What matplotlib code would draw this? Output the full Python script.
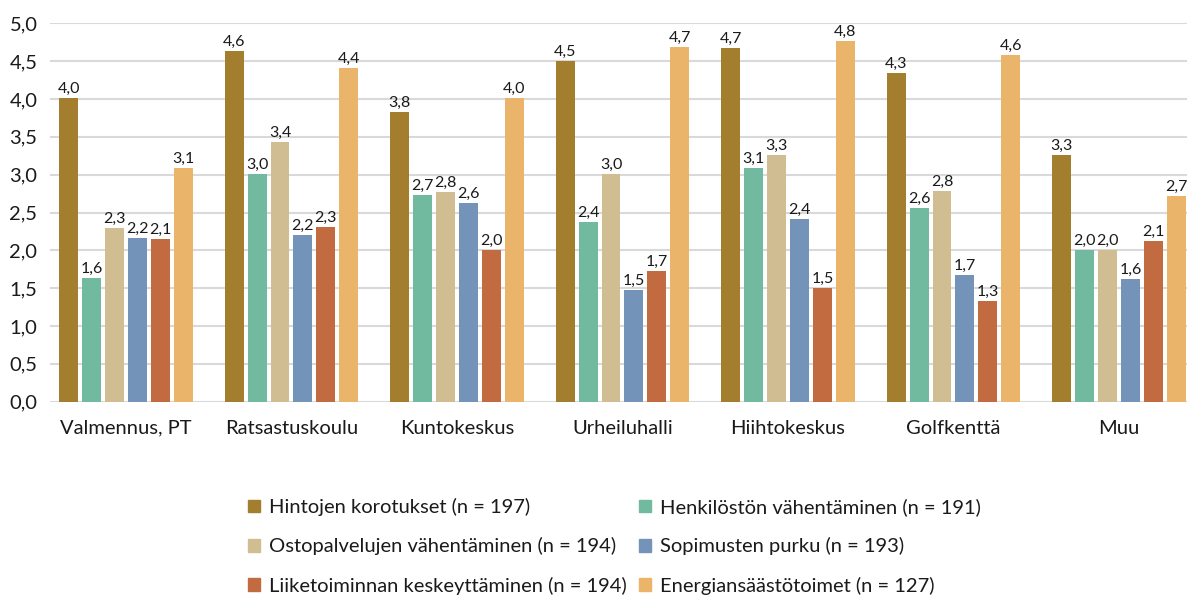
import matplotlib

matplotlib.use("Agg")

import matplotlib.pyplot as plt
import numpy as np
from matplotlib.patches import Patch

plt.rcParams["font.family"] = ["Lato", "DejaVu Sans"]

categories = ["Valmennus, PT", "Ratsastuskoulu", "Kuntokeskus", "Urheiluhalli",
              "Hiihtokeskus", "Golfkenttä", "Muu"]

series_names = [
    "Hintojen korotukset (n = 197)",
    "Henkilöstön vähentäminen (n = 191)",
    "Ostopalvelujen vähentäminen (n = 194)",
    "Sopimusten purku (n = 193)",
    "Liiketoiminnan keskeyttäminen (n = 194)",
    "Energiansäästötoimet (n = 127)",
]

hintojen = [4.01, 4.63, 3.83, 4.50, 4.67, 4.34, 3.26]
henkilosto = [1.64, 3.01, 2.73, 2.38, 3.09, 2.56, 2.00]
ostopalvelut = [2.30, 3.43, 2.77, 3.01, 3.26, 2.78, 2.00]
sopimukset = [2.16, 2.20, 2.62, 1.48, 2.41, 1.67, 1.62]
keskeytys = [2.15, 2.31, 2.01, 1.73, 1.50, 1.33, 2.12]
energia = [3.09, 4.41, 4.01, 4.69, 4.76, 4.58, 2.72]

colors = ["#A37E2E", "#72BA9F", "#D0BE92", "#7394B8", "#C26B40", "#EAB56A"]

series = [hintojen, henkilosto, ostopalvelut, sopimukset, keskeytys, energia]

fig = plt.figure(figsize=(11.87, 5.95), dpi=100)
ax = fig.add_axes([50 / 1187, 1 - 401.7 / 595, 1 - 50 / 1187, (401.7 - 23.3) / 595])

x = np.arange(len(categories))
step = 0.1386
width = 0.1145
for i, (vals, col) in enumerate(zip(series, colors)):
    pos = x + (i - 2.5) * step
    bars = ax.bar(pos, vals, width=width, color=col, zorder=3)
    for b, v in zip(bars, vals):
        ax.annotate(f"{v:.1f}".replace(".", ","),
                    (b.get_x() + b.get_width() / 2, v),
                    xytext=(0, 1.5), textcoords="offset points",
                    ha="center", va="bottom", fontsize=11.5, color="#1a1a1a")

ax.set_ylim(0, 5)
ax.set_xlim(-0.459, 6.411)
ax.set_yticks(np.arange(0, 5.01, 0.5))
ax.set_yticklabels([f"{t:.1f}".replace(".", ",") for t in np.arange(0, 5.01, 0.5)])
ax.set_xticks(x)
ax.set_xticklabels(categories)
ax.tick_params(axis="both", length=0, labelsize=14.5, colors="#1a1a1a")
ax.tick_params(axis="x", pad=13)
ax.tick_params(axis="y", pad=9)
ax.grid(axis="y", color="#D9D9D9", linewidth=1.5, zorder=0)
for s in ax.spines.values():
    s.set_visible(False)

# legend in two columns, filled row by row
handles = [Patch(color=c) for c in colors]
order = [0, 2, 4, 1, 3, 5]
fig.legend([handles[i] for i in order], [series_names[i] for i in order],
           ncol=2, loc="upper left", bbox_to_anchor=(238 / 1187, 1 - 488 / 595),
           frameon=False, fontsize=14.5, handlelength=0.6, handleheight=0.6,
           handletextpad=0.45, labelspacing=1.05, columnspacing=0.6,
           borderpad=0, labelcolor="#1a1a1a")

fig.savefig("out.png", dpi=100)
